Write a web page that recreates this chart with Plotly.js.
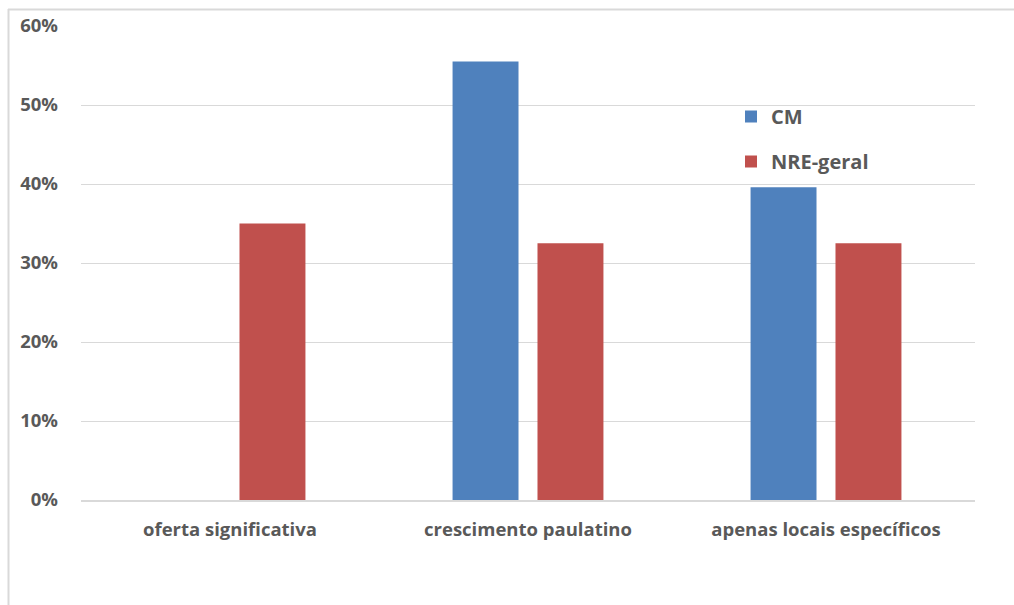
<!DOCTYPE html>
<html>
<head>
<meta charset="utf-8">
<script src="https://cdn.plot.ly/plotly-3.0.1.min.js"></script>
<style>
html,body{margin:0;padding:0;background:#fff;}
#chart{width:1014px;height:605px;}
</style>
</head>
<body>
<div id="chart"></div>
<script>
const categories = ["oferta significativa", "crescimento paulatino", "apenas locais específicos"];
const seriesNames = ["CM", "NRE-geral"];
const cmValues = [null, 0.555, 0.396];
const nreValues = [0.35, 0.325, 0.325];
const tickVals = [0, 0.1, 0.2, 0.3, 0.4, 0.5, 0.6];
const tickText = ["0%", "10%", "20%", "30%", "40%", "50%", "60%"];

const fontFam = "'Open Sans', sans-serif";
const grey = "#595959";

const traces = [
  {type: "bar", name: seriesNames[0], x: categories, y: cmValues, marker: {color: "#4f81bd"}, legendgroup: "a", hoverinfo: "none"},
  {type: "bar", name: seriesNames[1], x: categories, y: nreValues, marker: {color: "#c0504d"}, legendgroup: "b", hoverinfo: "none"}
];

const L = 81, R = 975, T = 26, B = 500;
const pw = R - L, ph = B - T;
const px = v => (v - L) / pw;
const py = v => (B - v) / ph;

const layout = {
  width: 1014, height: 605,
  margin: {l: L, r: 1014 - R, t: T, b: 605 - B},
  paper_bgcolor: "#fff", plot_bgcolor: "#fff",
  font: {family: fontFam, color: grey, size: 18, weight: 700},
  barmode: "group",
  bargap: 0.43,
  bargroupgap: 0.2235,
  showlegend: true,
  legend: {
    x: px(731), y: py(97), xanchor: "left", yanchor: "top",
    bgcolor: "rgba(0,0,0,0)",
    font: {family: fontFam, size: 20, color: grey, weight: 700},
    tracegroupgap: 16,
    itemwidth: 30
  },
  xaxis: {
    type: "category",
    showgrid: false,
    showline: true, linecolor: "#d9d9d9", linewidth: 2,
    ticks: "",
    tickfont: {family: fontFam, size: 18.5, color: grey, weight: 700},
    ticklabelstandoff: 12,
    fixedrange: true
  },
  yaxis: {
    range: [0, 0.6],
    tickvals: tickVals, ticktext: tickText,
    showgrid: true, gridcolor: "#d9d9d9", gridwidth: 1,
    zeroline: false,
    showline: false,
    ticks: "",
    tickfont: {family: fontFam, size: 18.5, color: grey, weight: 700},
    ticklabelstandoff: 22,
    fixedrange: true
  },
  shapes: [
    {type: "line", xref: "paper", yref: "paper", x0: px(8), x1: px(1014), y0: py(9.5), y1: py(9.5), line: {color: "#d9d9d9", width: 2}},
    {type: "line", xref: "paper", yref: "paper", x0: px(8.5), x1: px(8.5), y0: py(9), y1: py(605), line: {color: "#d9d9d9", width: 2}}
  ]
};

Plotly.newPlot("chart", traces, layout, {displayModeBar: false, staticPlot: true});
</script>
</body>
</html>
